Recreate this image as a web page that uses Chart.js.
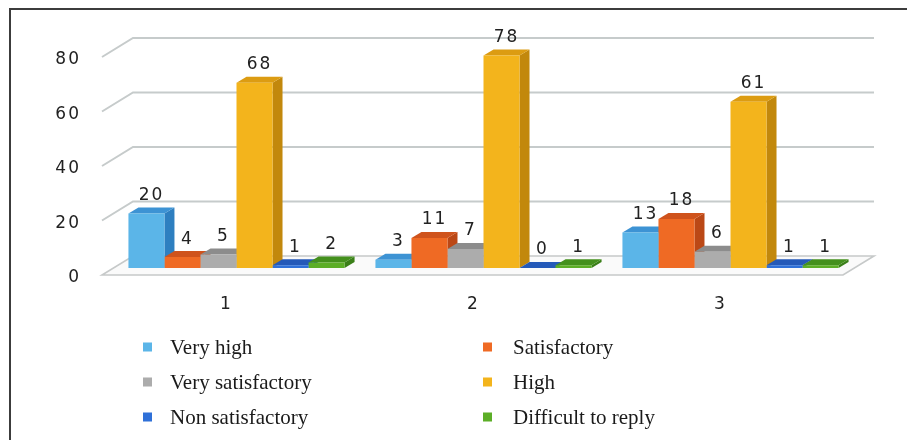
<!DOCTYPE html>
<html>
<head>
<meta charset="utf-8">
<script src="https://cdn.jsdelivr.net/npm/chart.js@4.4.0/dist/chart.umd.min.js"></script>
<style>
  html, body { margin: 0; padding: 0; background: #ffffff; }
  canvas { display: block; }
</style>
</head>
<body>
<canvas id="chart" width="907" height="440"></canvas>
<script>
// ---- data ----
const categories = ['1', '2', '3'];
const seriesNames = ['Very high', 'Satisfactory', 'Very satisfactory', 'High', 'Non satisfactory', 'Difficult to reply'];
const veryHigh = [20, 3, 13];
const satisfactory = [4, 11, 18];
const verySatisfactory = [5, 7, 6];
const high = [68, 78, 61];
const nonSatisfactory = [1, 0, 1];
const difficultToReply = [2, 1, 1];
const yTicks = [0, 20, 40, 60, 80];

// ---- styling ----
const seriesValues = [veryHigh, satisfactory, verySatisfactory, high, nonSatisfactory, difficultToReply];
const frontColors = ['#5bb5e8', '#ef6a24', '#acacac', '#f3b41c', '#2f70d8', '#5cae27'];
const topColors   = ['#3d93d4', '#cf531c', '#8c8c8c', '#dc9c12', '#2459b8', '#44901d'];
const sideColors  = ['#2e7fc0', '#bb4816', '#7b7b7b', '#c2880c', '#1d4ea3', '#3a7f18'];

const BAR_DX = 10, BAR_DY = -6;     // bar depth
const FRONT_DX = -11, FRONT_DY = 7; // floor front edge relative to bar plane
const BACK_DX = 20, BACK_DY = -12;  // back wall relative to bar plane

const tickFont = { family: 'DejaVu Sans', size: 17 };

function poly(ctx, pts, fill) {
  ctx.beginPath();
  ctx.moveTo(pts[0][0], pts[0][1]);
  for (let i = 1; i < pts.length; i++) ctx.lineTo(pts[i][0], pts[i][1]);
  ctx.closePath();
  ctx.fillStyle = fill;
  ctx.fill();
}

const scene3d = {
  id: 'scene3d',
  beforeDraw(chart) {
    const ctx = chart.ctx;
    // slightly spaced digits for axis and value labels
    ctx.letterSpacing = '2px';
    const { left, right } = chart.chartArea;
    const ys = chart.scales.y;
    ctx.save();
    // outer frame
    ctx.strokeStyle = '#3c3c3c';
    ctx.lineWidth = 2;
    ctx.strokeRect(10, 9, 1000, 1000);

    // floor
    const y0 = ys.getPixelForValue(0);
    ctx.beginPath();
    ctx.moveTo(left + FRONT_DX, y0 + FRONT_DY);
    ctx.lineTo(right + FRONT_DX, y0 + FRONT_DY);
    ctx.lineTo(right + BACK_DX, y0 + BACK_DY);
    ctx.lineTo(left + BACK_DX, y0 + BACK_DY);
    ctx.closePath();
    ctx.fillStyle = '#fafafa';
    ctx.fill();
    ctx.strokeStyle = '#c6c9c9';
    ctx.lineWidth = 1.6;
    ctx.stroke();

    // wall gridlines
    ctx.strokeStyle = '#c6cbcb';
    ctx.lineWidth = 2;
    yTicks.forEach(v => {
      if (v === 0) return;
      const y = ys.getPixelForValue(v);
      ctx.beginPath();
      ctx.moveTo(left + FRONT_DX, y + FRONT_DY);
      ctx.lineTo(left + BACK_DX, y + BACK_DY);
      ctx.lineTo(right + BACK_DX, y + BACK_DY);
      ctx.stroke();
    });
    ctx.restore();
  },
  beforeDatasetsDraw(chart) {
    // side and top faces, left to right, behind the front faces
    const ctx = chart.ctx;
    ctx.save();
    const n = chart.data.datasets.length;
    chart.data.labels.forEach((_, j) => {
      for (let i = 0; i < n; i++) {
        const bar = chart.getDatasetMeta(i).data[j];
        const p = bar.getProps(['x', 'y', 'base', 'width'], true);
        const x0 = p.x - p.width / 2, x1 = p.x + p.width / 2;
        const top = Math.min(p.y, p.base);
        poly(ctx, [[x1, top], [x1 + BAR_DX, top + BAR_DY], [x1 + BAR_DX, p.base + BAR_DY], [x1, p.base]], sideColors[i]);
        poly(ctx, [[x0, top], [x1, top], [x1 + BAR_DX, top + BAR_DY], [x0 + BAR_DX, top + BAR_DY]], topColors[i]);
      }
    });
    ctx.restore();
  },
  afterDatasetsDraw(chart) {
    const ctx = chart.ctx;
    ctx.save();
    ctx.letterSpacing = '2px';
    ctx.font = '17px "DejaVu Sans"';
    ctx.fillStyle = '#222222';
    ctx.textAlign = 'center';
    ctx.textBaseline = 'middle';
    chart.data.datasets.forEach((ds, i) => {
      const meta = chart.getDatasetMeta(i);
      meta.data.forEach((bar, j) => {
        const p = bar.getProps(['x', 'y', 'base'], true);
        const top = Math.min(p.y, p.base);
        ctx.fillText(String(ds.data[j]), p.x + 5, top - 18);
      });
    });
    ctx.restore();
  },
  afterDraw(chart) {
    // two-column legend
    const ctx = chart.ctx;
    ctx.save();
    ctx.letterSpacing = '0px';
    ctx.font = '21px "Liberation Serif"';
    ctx.textBaseline = 'middle';
    ctx.textAlign = 'left';
    const rowY = [347, 382, 417];
    seriesNames.forEach((name, i) => {
      const col = i % 2, row = Math.floor(i / 2);
      const mx = col ? 483 : 143;
      const tx = col ? 513 : 170;
      const y = rowY[row];
      ctx.fillStyle = frontColors[i];
      ctx.fillRect(mx, y - 4.5, 9, 9);
      ctx.fillStyle = '#1a1a1a';
      ctx.fillText(name, tx, y + 1);
    });
    ctx.restore();
  }
};

new Chart(document.getElementById('chart'), {
  type: 'bar',
  data: {
    labels: categories,
    datasets: seriesNames.map((name, i) => ({
      label: name,
      data: seriesValues[i],
      backgroundColor: frontColors[i],
      borderWidth: 0
    }))
  },
  options: {
    responsive: false,
    animation: false,
    devicePixelRatio: 1,
    layout: { padding: { left: 0, top: 50, right: 53, bottom: 0 } },
    datasets: { bar: { categoryPercentage: 0.875, barPercentage: 1.0 } },
    plugins: { legend: { display: false }, tooltip: { enabled: false } },
    scales: {
      x: {
        grid: { display: false, drawTicks: false },
        border: { display: false },
        ticks: { font: tickFont, color: '#222222', padding: 26, labelOffset: -10 },
        afterFit: s => { s.height = 172; }
      },
      y: {
        min: 0,
        max: 80,
        grid: { display: false, drawTicks: false },
        border: { display: false },
        ticks: { font: tickFont, color: '#222222', padding: 32, labelOffset: 10 },
        afterBuildTicks: s => { s.ticks = yTicks.map(v => ({ value: v })); },
        afterFit: s => { s.width = 113; }
      }
    }
  },
  plugins: [scene3d]
});
</script>
</body>
</html>
